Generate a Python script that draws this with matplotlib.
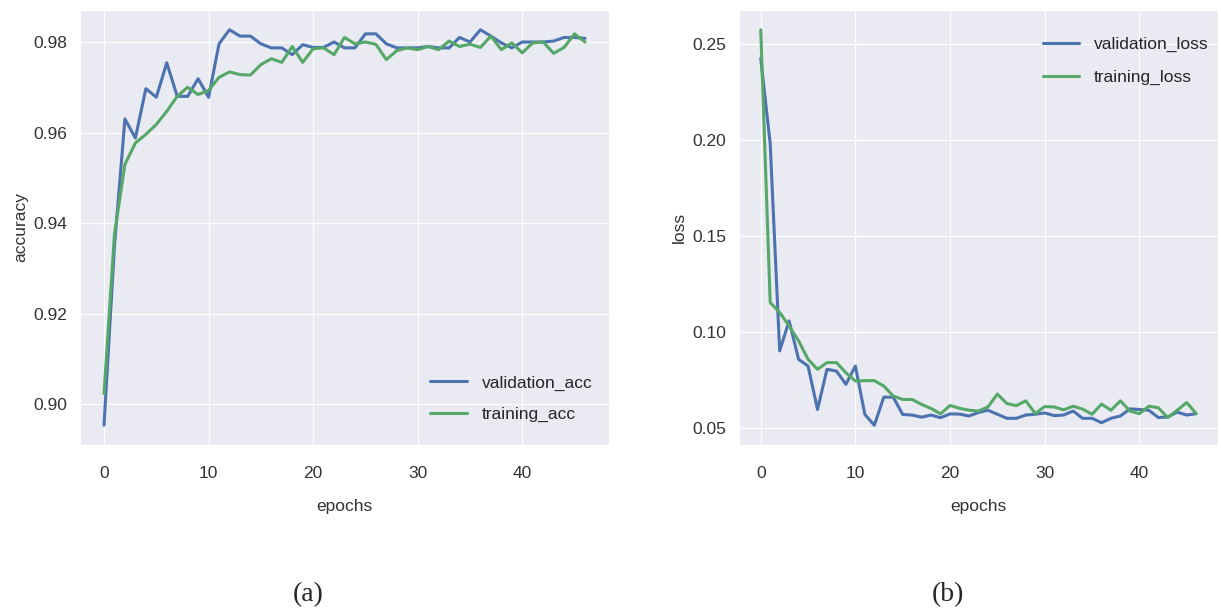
import matplotlib
matplotlib.use("Agg")
import matplotlib.pyplot as plt
import numpy as np
import seaborn as sns

# accuracy per epoch
validation_acc = [0.8954, 0.935, 0.963, 0.9588, 0.9697, 0.9678, 0.9754, 0.968, 0.968, 0.9719,
                  0.9678, 0.9796, 0.9827, 0.9813, 0.9813, 0.9796, 0.9787, 0.9787, 0.9772, 0.9794,
                  0.9788, 0.9788, 0.980, 0.9787, 0.9787, 0.9818, 0.9818, 0.9796, 0.9787, 0.9787,
                  0.9787, 0.979, 0.9787, 0.9787, 0.981, 0.980, 0.9827, 0.9813, 0.9798, 0.9787,
                  0.980, 0.980, 0.980, 0.9802, 0.981, 0.981, 0.9808]
training_acc = [0.9024, 0.9376, 0.953, 0.9577, 0.9596, 0.9618, 0.9647, 0.968, 0.970, 0.9684,
                0.9693, 0.9722, 0.9734, 0.9728, 0.9727, 0.975, 0.9763, 0.9755, 0.979, 0.9755,
                0.9785, 0.9787, 0.9772, 0.981, 0.9796, 0.980, 0.9795, 0.9761, 0.9781, 0.9787,
                0.9783, 0.979, 0.9783, 0.9802, 0.979, 0.9795, 0.9788, 0.9813, 0.9783, 0.9798,
                0.9776, 0.9798, 0.980, 0.9775, 0.9788, 0.9818, 0.980]

# loss per epoch
validation_loss = [0.2427, 0.1983, 0.0904, 0.106, 0.086, 0.0825, 0.0599, 0.0808, 0.0799, 0.073,
                   0.0825, 0.0573, 0.0517, 0.0663, 0.0663, 0.0573, 0.057, 0.0559, 0.057, 0.0556,
                   0.0576, 0.0575, 0.0565, 0.0583, 0.0595, 0.0574, 0.0553, 0.0553, 0.057, 0.0574,
                   0.0581, 0.0567, 0.057, 0.0591, 0.0553, 0.0553, 0.053, 0.0553, 0.0565, 0.0602,
                   0.0599, 0.0595, 0.0557, 0.056, 0.0585, 0.057, 0.0577]
training_loss = [0.2575, 0.1156, 0.1104, 0.1034, 0.0956, 0.086, 0.0808, 0.0843, 0.0843, 0.079,
                 0.0747, 0.0749, 0.0749, 0.0721, 0.0669, 0.0651, 0.0651, 0.0625, 0.0604, 0.0576,
                 0.062, 0.0605, 0.0595, 0.0591, 0.0612, 0.0679, 0.063, 0.0619, 0.0644, 0.0578,
                 0.0614, 0.0612, 0.0597, 0.0616, 0.0601, 0.0574, 0.0627, 0.0595, 0.0644, 0.0591,
                 0.0577, 0.0616, 0.0608, 0.0557, 0.0595, 0.0635, 0.0578]

BLUE = "#4C72B0"
GREEN = "#55A868"

sns.set_style("darkgrid")
plt.rcParams["font.family"] = ["Liberation Sans", "DejaVu Sans"]
plt.rcParams["font.size"] = 12.5
plt.rcParams["xtick.color"] = "#333333"
plt.rcParams["ytick.color"] = "#333333"
plt.rcParams["axes.labelcolor"] = "#333333"
plt.rcParams["legend.frameon"] = False

epochs = np.arange(len(validation_acc))

fig = plt.figure(figsize=(12.21, 6.09), dpi=100)
ax1 = fig.add_axes([0.0655, 0.2693, 0.4333, 0.7143])
ax2 = fig.add_axes([0.6052, 0.2693, 0.3923, 0.7143])

ax1.plot(epochs, validation_acc, color=BLUE, lw=2.2, label="validation_acc")
ax1.plot(epochs, training_acc, color=GREEN, lw=2.2, label="training_acc")
ax1.set_xlabel("epochs", labelpad=13)
ax1.set_ylabel("accuracy")
ax1.set_xticks([0, 10, 20, 30, 40])
ax1.set_yticks([0.90, 0.92, 0.94, 0.96, 0.98])
ax1.set_yticklabels(["0.90", "0.92", "0.94", "0.96", "0.98"])
ax1.legend(loc="lower right", bbox_to_anchor=(1.011, 0.0), fontsize=12.5, handlelength=2.1,
           handletextpad=0.85, labelspacing=0.95, borderaxespad=0.9)

ax2.plot(epochs, validation_loss, color=BLUE, lw=2.2, label="validation_loss")
ax2.plot(epochs, training_loss, color=GREEN, lw=2.2, label="training_loss")
ax2.set_xlabel("epochs", labelpad=13)
ax2.set_ylabel("loss")
ax2.set_xticks([0, 10, 20, 30, 40])
ax2.set_yticks([0.05, 0.10, 0.15, 0.20, 0.25])
ax2.set_yticklabels(["0.05", "0.10", "0.15", "0.20", "0.25"])
ax2.legend(loc="upper right", bbox_to_anchor=(1.031, 0.995), fontsize=12.5, handlelength=2.1,
           handletextpad=0.85, labelspacing=1.05, borderaxespad=1.0)

for ax in (ax1, ax2):
    ax.tick_params(axis="y", length=0, pad=9)
    ax.tick_params(axis="x", length=0, pad=15)

fig.text(0.252, 0.023, "(a)", family="Liberation Serif", fontsize=20, ha="center", va="center")
fig.text(0.776, 0.023, "(b)", family="Liberation Serif", fontsize=20, ha="center", va="center")

fig.savefig("out.png", dpi=100)
